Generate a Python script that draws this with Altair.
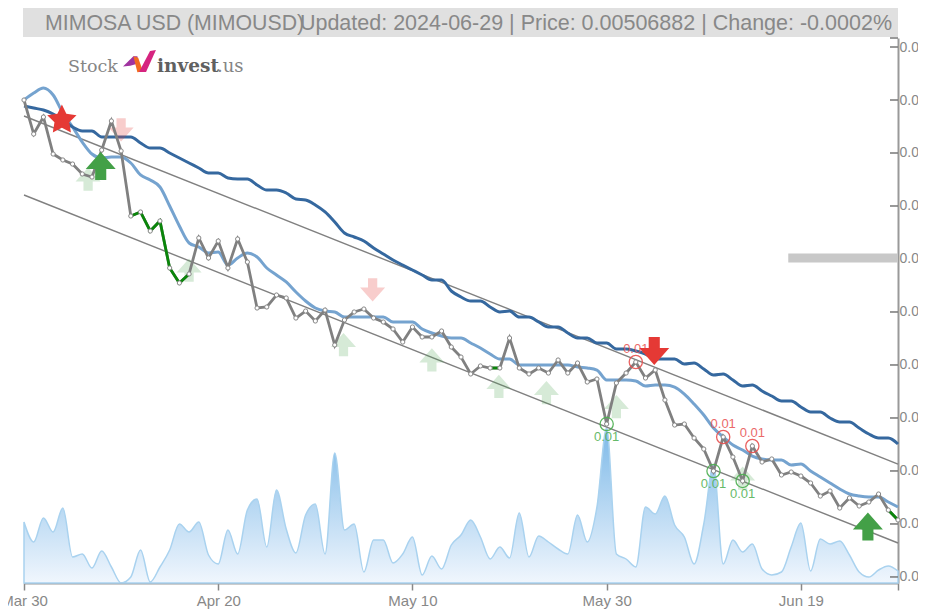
import altair as alt
import pandas as pd

# all price series are in millionths of a USD
close_micro = [13000,12358,12679,11981,11868,11792,11604,11547,12056,12604,12038,10811,10887,10528,10717,9830,9547,9717,10396,10019,10339,9830,10377,9943,9075,9094,9320,9264,8886,9018,8830,9037,8377,8849,9000,9056,8886,8811,8679,8433,8717,8528,8528,8641,8339,8150,7830,7981,7943,7943,8509,7943,7830,7943,7848,8094,7848,8037,7679,7735,6886,7660,7848,8056,7754,7905,7339,6867,6886,6622,6414,5999,6641,6263,5811,6471,6169,6226,5924,5980,5905,5773,5527,5622,5301,5490,5339,5414,5565,5263,5075]
slow_ma_micro = [12887,12849,12811,12736,12623,12491,12415,12415,12302,12302,12302,12302,12189,12094,12094,12000,11906,11811,11717,11622,11622,11528,11509,11509,11396,11302,11302,11245,11132,11113,11019,10887,10698,10490,10415,10339,10207,10094,9981,9886,9792,9698,9603,9603,9396,9283,9207,9207,9094,9000,9018,8905,8905,8811,8717,8717,8603,8509,8509,8415,8415,8301,8301,8264,8207,8113,8113,8113,8018,8037,7924,7811,7830,7716,7603,7622,7509,7414,7320,7320,7207,7113,7113,6999,6924,6924,6811,6697,6622,6622,6509]
fast_ma_micro = [13000,13132,13226,13094,12755,12491,12207,11981,11906,11924,11924,11811,11585,11490,11358,11000,10622,10302,10226,10113,10132,9886,10019,10113,10037,9830,9698,9566,9377,9207,9075,9018,9000,8905,8905,8905,8905,8905,8811,8811,8811,8679,8603,8547,8509,8509,8415,8320,8207,8113,8113,7999,7999,7999,7999,7999,7999,7962,7943,7905,7716,7716,7716,7698,7603,7622,7622,7584,7452,7264,7056,6811,6641,6490,6395,6282,6226,6207,6207,6112,6131,5999,5886,5773,5660,5565,5527,5509,5509,5414,5320]
volume = [61,41,65,51,75,26,29,15,32,16,0,6,33,1,16,33,59,51,61,28,19,53,29,73,84,36,93,54,30,68,79,29,130,53,59,11,43,43,20,29,46,8,27,14,38,48,63,46,24,36,25,70,26,47,41,34,29,68,41,76,155,29,24,16,76,69,87,58,46,19,59,118,19,43,31,39,14,8,11,36,60,12,44,39,42,28,11,6,13,17,12]

x_ticks = [0, 20, 40, 60, 80, 90]
x_labels = ["Mar 30", "Apr 20", "May 10", "May 30", "Jun 19", ""]
y_ticks = [14000,13000,12000,11000,10000,9000,8000,7000,6000,5000,4000]
y_domain = [3886, 14170]

channel_upper = [(0, 12698), (90, 6131)]
channel_lower = [(0, 11207), (90, 4641)]
green_segments = [(11, 17), (48, 49), (89, 90)]
red_rings = [63, 72, 75]
green_rings = [60, 71, 74]
pale_up = [(6.6,11509),(17,9792),(32.9,8386),(42,8094),(48.9,7594),(53.8,7480),(61,7216),(74,5867)]
pale_down = [(10,12434),(35.9,9415)]
strong_up = [(7.9,11755),(86.9,4952)]
strong_down = [(64.9,8264)]
star = [(3.9,12623)]
resistance = [(78.7, 90, 10019)]

UP = "M0,-0.93L1,0.2L0.37,0.2L0.37,0.93L-0.37,0.93L-0.37,0.2L-1,0.2Z"
DOWN = "M0,0.93L1,-0.2L0.37,-0.2L0.37,-0.93L-0.37,-0.93L-0.37,-0.2L-1,-0.2Z"
STAR = "M0,-1L.29,-.4L.951,-.309L.48,.155L.588,.809L0,.5L-.588,.809L-.48,.155L-.951,-.309L-.29,-.4Z"

idx = list(range(len(close_micro)))
df = pd.DataFrame({"i": idx, "close": close_micro, "slow": slow_ma_micro, "fast": fast_ma_micro, "vol": volume})

GREY = "#888888"
label_map = "{" + ",".join(f"'{p}':'{l}'" for p, l in zip(x_ticks, x_labels)) + "}"

xs = alt.Scale(domain=[0, 90], nice=False, zero=False)
ys = alt.Scale(domain=y_domain, nice=False, zero=False)
x_axis = alt.Axis(
    values=x_ticks, labelExpr=f"{label_map}[datum.value]", orient="bottom", grid=False,
    domainColor="#999999", domainWidth=2, tickColor="#888888", tickWidth=1.5, tickSize=7,
    labelColor=GREY, labelFontSize=15, labelFont="Liberation Sans", labelPadding=3,
    labelOverlap=False, labelFlush=False, labelBound=False, title=None)
X = alt.X("i:Q", scale=xs, axis=x_axis)
def Y(f):
    return alt.Y(f + ":Q", scale=ys, axis=None)

layers = []

# title bar
layers.append(alt.Chart(pd.DataFrame({"a": [1]})).mark_rect(color="#e0e0e0").encode(
    x=alt.value(-1), x2=alt.value(874), y=alt.value(-31), y2=alt.value(-1)))

# volume
grad = alt.Gradient(gradient="linear", x1=1, x2=1, y1=0, y2=1,
                    stops=[alt.GradientStop(color="#7db9e8", offset=0),
                           alt.GradientStop(color="#f0f6fd", offset=1)])
layers.append(alt.Chart(df).mark_area(interpolate="monotone", fill=grad, stroke="#a9d2ef", strokeWidth=1.5).encode(
    x=X,
    y=alt.Y("vol:Q", scale=alt.Scale(domain=[0, 545], nice=False), axis=None)))

# right axis (labels and domain)
layers.append(alt.Chart(df).mark_line(opacity=0).encode(
    x=X,
    y=alt.Y("close:Q", scale=ys, axis=alt.Axis(
        orient="right", values=y_ticks, labelExpr="format(datum.value/1000000,'.3f')",
        ticks=False, grid=False, domainColor="#999999", domainWidth=2, labelColor=GREY,
        labelFontSize=14, labelFont="Liberation Sans", labelPadding=1, labelOverlap=False,
        labelBound=False, labelFlush=False, title=None))))

# inward ticks
tick_df = pd.DataFrame({"v": y_ticks + [y_domain[1]]})
layers.append(alt.Chart(tick_df).mark_rule(color="#777777", strokeWidth=1.5).encode(
    x=alt.value(866), x2=alt.value(874), y=Y("v")))

# trend channel
for k, ch in enumerate([channel_upper, channel_lower]):
    d = pd.DataFrame(ch, columns=["i", "v"])
    layers.append(alt.Chart(d).mark_line(color="#808080", strokeWidth=1.4).encode(x=X, y=Y("v")))

# moving averages
layers.append(alt.Chart(df).mark_line(color="#75a3cf", strokeWidth=3, interpolate="monotone").encode(x=X, y=Y("fast")))
layers.append(alt.Chart(df).mark_line(color="#35689f", strokeWidth=3, interpolate="monotone").encode(x=X, y=Y("slow")))

# resistance band
rd = pd.DataFrame(resistance, columns=["i", "i2", "v"])
layers.append(alt.Chart(rd).mark_rule(color="#c8c8c8", strokeWidth=9).encode(x=X, x2="i2:Q", y=Y("v")))

def arrows(rows, shape, color, opacity, size):
    d = pd.DataFrame(rows, columns=["i", "v"])
    return alt.Chart(d).mark_point(shape=shape, filled=True, color=color, opacity=opacity, size=size, strokeWidth=0).encode(x=X, y=Y("v"))

layers.append(arrows(pale_up, UP, "#43a047", 0.22, 625))
layers.append(arrows(pale_down, DOWN, "#e53935", 0.25, 625))

# price
layers.append(alt.Chart(df).mark_line(color="#808080", strokeWidth=2.8).encode(x=X, y=Y("close")))
seg_rows = []
for s, (a, b) in enumerate(green_segments):
    for j in range(a, b + 1):
        seg_rows.append({"i": j, "close": close_micro[j], "seg": s})
layers.append(alt.Chart(pd.DataFrame(seg_rows)).mark_line(color="#0a860a", strokeWidth=2.8).encode(
    x=X, y=Y("close"), detail="seg:N"))
layers.append(alt.Chart(df).mark_point(shape="circle", filled=True, fill="#ffffff", stroke="#888888",
                                       strokeWidth=1, opacity=1, size=18).encode(x=X, y=Y("close")))

# extreme markers and their labels
for rings, col, dy in [(red_rings, "#e8504f", -13), (green_rings, "#4caf50", 13)]:
    d = df[df["i"].isin(rings)].assign(t="0.01")
    layers.append(alt.Chart(d).mark_point(shape="circle", filled=False, color=col, strokeWidth=1.3, size=175, opacity=0.9).encode(x=X, y=Y("close")))
    layers.append(alt.Chart(d).mark_text(color=col, fontSize=13, font="Liberation Sans", dy=dy, opacity=0.85).encode(x=X, y=Y("close"), text="t:N"))

layers.append(arrows(strong_up, UP, "#43a047", 1, 900))
layers.append(arrows(strong_down, DOWN, "#e53935", 1, 900))
layers.append(arrows(star, STAR, "#e53935", 1, 950))

# header texts
def text(t, x, y, size, color, font="Liberation Sans", align="left", weight="normal"):
    return alt.Chart(pd.DataFrame({"t": [t]})).mark_text(
        align=align, baseline="alphabetic", fontSize=size, font=font, color=color, fontWeight=weight
    ).encode(x=alt.value(x), y=alt.value(y), text="t:N")

layers.append(text("MIMOSA USD (MIMOUSD)", 21, -8, 21.3, "#888888"))
layers.append(text("Updated: 2024-06-29 | Price: 0.00506882 | Change: -0.0002%", 868, -8, 21.5, "#888888", align="right"))

# logo
layers.append(text("Stock", 44, 34, 17.5, "#858585", font="DejaVu Serif"))
layers.append(text("invest", 133, 34, 18.5, "#606060", font="DejaVu Serif", weight="bold"))
layers.append(text(".us", 193, 34, 18, "#858585", font="DejaVu Serif"))
logo_parts = [("M-1,.35L-.35,-.3L-.1,-.3L-.05,.15L-.55,.3Z", "#a033a0"),
              ("M-.35,-.3L-.05,-.2L.25,.65L-.1,.7Z", "#f26b21"),
              ("M0,.69L.69,-.63L1.06,-.69L.44,.69Z", "#d6247f")]
for path, col in logo_parts:
    layers.append(alt.Chart(pd.DataFrame({"a": [1]})).mark_point(shape=path, filled=True, color=col, opacity=1, size=1024, strokeWidth=0).encode(
        x=alt.value(115), y=alt.value(23)))

chart = alt.layer(*layers).resolve_scale(y="independent").properties(
    width=874, height=545,
    autosize=alt.AutoSizeParams(type="none"),
    padding={"left": 16, "top": 30, "right": 20, "bottom": 27},
    background="#ffffff",
).configure_view(stroke=None)

chart.save("out.html", embed_options={"renderer": "svg", "actions": False})
